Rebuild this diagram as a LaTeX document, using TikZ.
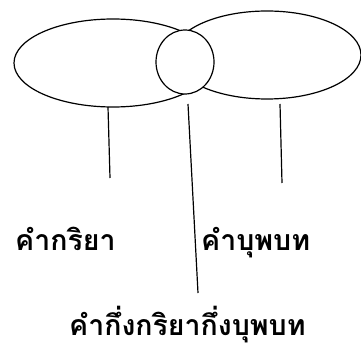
\documentclass[tikz,border=0pt]{standalone}
\usepackage{fontspec}
\newfontfamily\thaifont[Script=Thai]{Loma}
\begin{document}
\begin{tikzpicture}[x=1pt,y=-1pt,
  shape line/.style={line width=1.2pt},
  lbl/.style={font=\thaifont\bfseries\fontsize{28.5}{32}\selectfont, inner sep=0pt}]
\useasboundingbox (0,0) rectangle (361,347);
\draw[shape line] (113,63) ellipse [x radius=99, y radius=44];
\draw[shape line] (267,55) ellipse [x radius=94, y radius=44];
\draw[shape line, fill=white] (185,62) ellipse [x radius=29, y radius=32];
\coordinate (l1a) at (108,107); \coordinate (l1b) at (110,178);
\coordinate (l2a) at (188,104); \coordinate (l2b) at (198,293);
\coordinate (l3a) at (280,104); \coordinate (l3b) at (282,183);
\draw[shape line] (l1a) -- (l1b);
\draw[shape line] (l2a) -- (l2b);
\draw[shape line] (l3a) -- (l3b);
\node[lbl, anchor=base west] (verb) at (15,251) {คำกริยา};
\node[lbl, anchor=base west] (prep) at (201,251) {คำบุพบท};
\node[lbl, anchor=base west] (both) at (69,335.5) {คำกึ่งกริยากึ่งบุพบท};
\end{tikzpicture}
\end{document}
